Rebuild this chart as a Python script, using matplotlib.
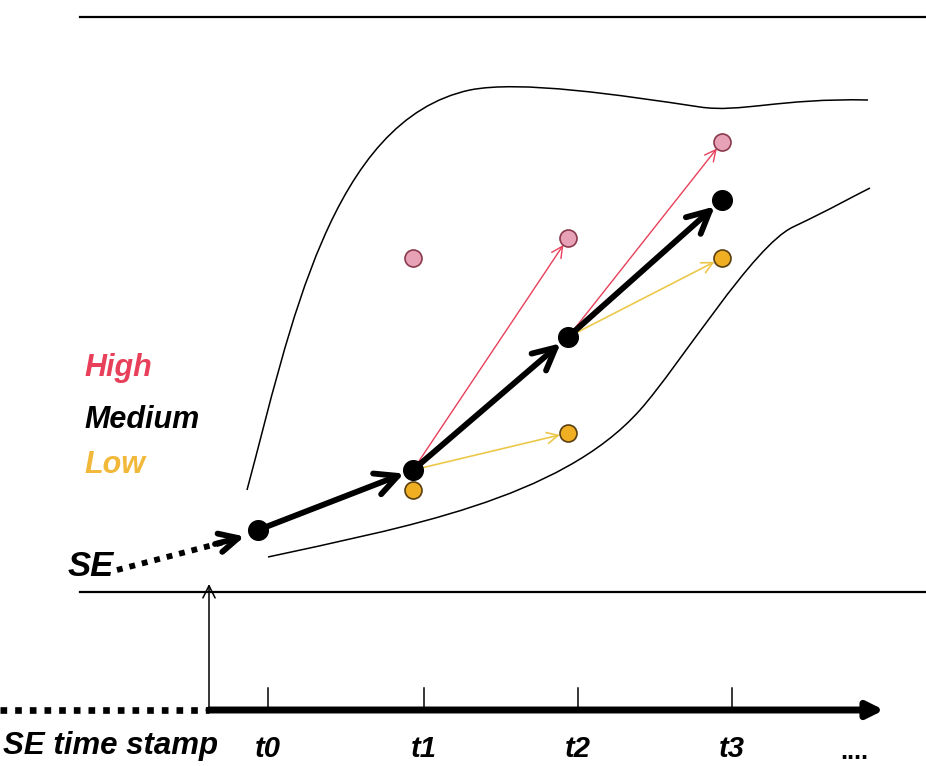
"""Diagram of SE state evolution over time stamps with high/medium/low branches."""

import matplotlib
matplotlib.use('Agg')
import matplotlib.pyplot as plt
from matplotlib.path import Path
from matplotlib.patches import PathPatch

# Data (diagram coordinates, y grows downwards)
time_labels = ['t0', 't1', 't2', 't3']
tick_x = [268, 424, 578, 732]
medium_x = [258, 413, 568, 722]
medium_y = [530, 470, 337, 200]
high_x = [413, 568, 722]
high_y = [258, 238, 142]
low_x = [413, 568, 722]
low_y = [490, 433, 258]
legend_labels = ['High', 'Medium', 'Low']

RED = '#e8405a'
PINK = '#e8a2b8'
ORANGE = '#f0ae22'
YELLOW = '#ecc84a'
LOW_TXT = '#f2b83a'
FONT = ['Liberation Sans Narrow', 'Liberation Sans', 'DejaVu Sans']

fig = plt.figure(figsize=(9.26, 7.66), dpi=100)
ax = fig.add_axes([0, 0, 1, 1])
ax.set_xlim(0, 926)
ax.set_ylim(766, 0)
ax.axis('off')

# horizontal frame lines
ax.plot([80, 926], [17, 17], color='black', lw=1.6)
ax.plot([80, 926], [592, 592], color='black', lw=1.6)

# envelope curves
upper = Path([(247, 490), (290, 330), (330, 120), (470, 90),
              (520, 80), (620, 95), (700, 107),
              (740, 113), (780, 98), (868, 100)],
             [Path.MOVETO] + [Path.CURVE4] * 9)
lower = Path([(268, 557), (400, 528), (560, 500), (640, 410),
              (680, 365), (753, 246), (793, 227),
              (833, 208), (850, 198), (870, 188)],
             [Path.MOVETO] + [Path.CURVE4] * 9)
for p in (upper, lower):
    ax.add_patch(PathPatch(p, fill=False, color='black', lw=1.1))


def arrow(x0, y0, x1, y1, color, lw, style='->', scale=20, shrink=6):
    ax.annotate('', xy=(x1, y1), xytext=(x0, y0),
                arrowprops=dict(arrowstyle=style, color=color, lw=lw,
                                mutation_scale=scale, shrinkA=0, shrinkB=shrink))


# branch arrows from t1 and t2 to high / low outcomes
for i in (1, 2):
    arrow(medium_x[i], medium_y[i], high_x[i], high_y[i], RED, 1.0, scale=20)
    arrow(medium_x[i], medium_y[i], low_x[i], low_y[i], YELLOW, 1.2, scale=20)

# medium path (thick)
for i in range(3):
    arrow(medium_x[i], medium_y[i], medium_x[i + 1], medium_y[i + 1],
          'black', 4.2, scale=40, shrink=7)

# markers
ax.scatter(high_x, high_y, s=150, color=PINK, edgecolor='#8a3a4c', lw=1.2, zorder=5)
ax.scatter(low_x, low_y, s=150, color=ORANGE, edgecolor='#5a4010', lw=1.2, zorder=5)
ax.scatter(medium_x, medium_y, s=200, color='black', zorder=6)

# SE entry (dotted)
ax.plot([117, 232], [570, 540], color='black', lw=4.2, ls=(0, (1, 1.2)))
arrow(215, 544, medium_x[0], medium_y[0] + 3, 'black', 4.2, scale=34, shrink=10)
ax.text(68, 566, 'SE', fontsize=25, fontstyle='italic', fontweight='bold',
        family=FONT, va='center', ha='left')

# legend texts
for lab, col, y in zip(legend_labels, [RED, 'black', LOW_TXT], [368, 420, 465]):
    ax.text(84, y, lab, color=col, fontsize=22, fontstyle='italic',
            fontweight='bold', family=FONT, va='center', ha='left')

# time axis
ax.plot([0, 209], [710, 710], color='black', lw=4.8, ls=(0, (1, 1.2)))
ax.annotate('', xy=(884, 710), xytext=(209, 710),
            arrowprops=dict(arrowstyle='-|>', color='black', lw=5,
                            mutation_scale=24, shrinkA=0, shrinkB=0))
ax.annotate('', xy=(209, 584), xytext=(209, 712),
            arrowprops=dict(arrowstyle='->', color='black', lw=1.1,
                            mutation_scale=22, shrinkA=0, shrinkB=0))
for x in tick_x:
    ax.plot([x, x], [688, 710], color='black', lw=1.1)
for x, lab in zip(tick_x, time_labels):
    ax.text(x, 749, lab, fontsize=21, fontstyle='italic', fontweight='bold',
            family=FONT, va='center', ha='center')
ax.text(3, 746, 'SE time stamp', fontsize=22.5, fontstyle='italic',
        fontweight='bold', family=FONT, va='center', ha='left')
ax.text(854, 752, '....', fontsize=18, fontweight='bold', family=FONT,
        va='center', ha='center')

fig.savefig('out.png', dpi=100)
